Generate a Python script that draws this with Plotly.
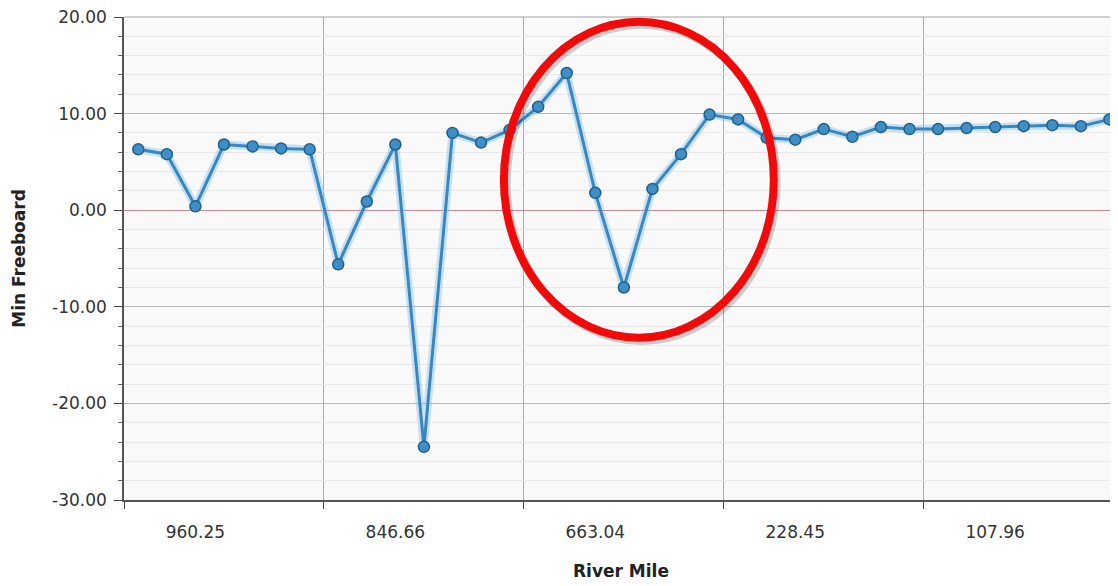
import plotly.graph_objects as go

# ── Data ─────────────────────────────────────────────────────
station_idx = list(range(35))
min_freeboard = [
    6.3, 5.8, 0.4, 6.8, 6.6, 6.4, 6.3,
    -5.6, 0.9, 6.8, -24.5, 8.0, 7.0, 8.3,
    10.7, 14.2, 1.8, -8.0, 2.2, 5.8, 9.9,
    9.4, 7.5, 7.3, 8.4, 7.6, 8.6, 8.4,
    8.4, 8.5, 8.6, 8.7, 8.8, 8.7, 9.4,
]
mile_tick_pos = [2, 9, 16, 23, 30]
mile_tick_text = ["960.25", "846.66", "663.04", "228.45", "107.96"]
group_edges = [-0.5, 6.5, 13.5, 20.5, 27.5]
y_tick_vals = [-30, -20, -10, 0, 10, 20]
y_tick_text = ["-30.00", "-20.00", "-10.00", "0.00", "10.00", "20.00"]

fig = go.Figure()

# soft glow under the line
fig.add_trace(go.Scatter(
    x=station_idx, y=min_freeboard, mode="lines",
    line=dict(color="rgba(120,190,240,0.4)", width=8),
    hoverinfo="skip", showlegend=False,
))
fig.add_trace(go.Scatter(
    x=station_idx, y=min_freeboard, mode="lines+markers",
    line=dict(color="#3a86bd", width=3),
    marker=dict(size=11, color="#3f8fc6", line=dict(color="#1f5f8f", width=1.5)),
    showlegend=False,
))

# ── Highlight ellipse (with a faint shadow) ──────────────────
fig.add_shape(type="circle", xref="x", yref="y",
              x0=12.9, x1=22.35, y0=-13.55, y1=19.2,
              line=dict(color="rgba(0,0,0,0.18)", width=8), layer="above")
fig.add_shape(type="circle", xref="x", yref="y",
              x0=12.8, x1=22.25, y0=-13.2, y1=19.5,
              line=dict(color="#f00a0a", width=8), layer="above")

# thin border along the top of the plot area
fig.add_shape(type="line", xref="paper", yref="paper",
              x0=0, x1=1, y0=1, y1=1,
              line=dict(color="#cfcfcf", width=2), layer="below")

# page body adds an 8px offset, so the figure is sized/margined to suit
fig.update_layout(
    width=1110, height=578,
    paper_bgcolor="white",
    plot_bgcolor="#f9f9f9",
    font=dict(family="DejaVu Sans", color="#333333", size=17),
    margin=dict(l=116, r=0, t=9, b=86),
    xaxis=dict(
        range=[-0.5, 34.3], automargin=False,
        tickvals=mile_tick_pos, ticktext=mile_tick_text,
        ticks="", showgrid=False, zeroline=False,
        showline=True, linecolor="#555555", linewidth=2,
        tickfont=dict(size=17, color="#333333"),
        ticklabelstandoff=16,
        minor=dict(tickvals=group_edges, ticks="outside", ticklen=7,
                   tickcolor="#444444", showgrid=True,
                   gridcolor="#a8a8a8", gridwidth=1),
        title=dict(text="<b>River Mile</b>", font=dict(size=17, color="#222222"),
                   standoff=24),
    ),
    yaxis=dict(
        range=[-30, 20], automargin=False,
        tickvals=y_tick_vals, ticktext=y_tick_text,
        ticks="outside", ticklen=8, tickcolor="#444444",
        showline=True, linecolor="#555555", linewidth=1.5,
        gridcolor="#b8b8b8", gridwidth=1,
        zeroline=True, zerolinecolor="#c48a96", zerolinewidth=1.2,
        tickfont=dict(size=17, color="#333333"),
        ticklabelstandoff=4, ticklabeloverflow="allow",
        minor=dict(dtick=2, ticks="outside", ticklen=4, tickcolor="#666666",
                   showgrid=True, gridcolor="#e8e8e8", gridwidth=1),
        title=dict(text="<b>Min Freeboard</b>", font=dict(size=17, color="#222222"),
                   standoff=22),
    ),
)

fig.write_html("out.html")
